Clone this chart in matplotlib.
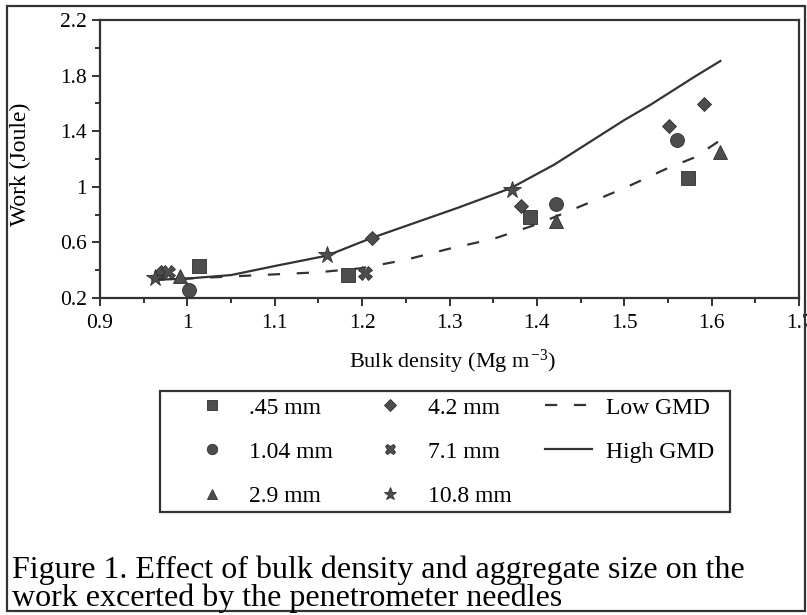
import matplotlib
matplotlib.use('Agg')
import matplotlib.pyplot as plt
from matplotlib.patches import Rectangle

plt.rcParams['font.family'] = ['Liberation Serif', 'DejaVu Serif']
plt.rcParams['mathtext.fontset'] = 'custom'
plt.rcParams['mathtext.rm'] = 'Liberation Serif'
plt.rcParams['mathtext.it'] = 'Liberation Serif:italic'

# ---- data ----
sq_x = [1.013, 1.184, 1.392, 1.573]          # .45 mm
sq_y = [0.430, 0.365, 0.780, 1.060]
ci_x = [1.002, 1.422, 1.560]                 # 1.04 mm
ci_y = [0.258, 0.876, 1.338]
tr_x = [0.991, 1.422, 1.610]                 # 2.9 mm
tr_y = [0.360, 0.756, 1.247]
di_x = [0.970, 1.211, 1.382, 1.551, 1.591]   # 4.2 mm
di_y = [0.390, 0.633, 0.862, 1.435, 1.598]
xx_x = [0.978, 1.203]                        # 7.1 mm
xx_y = [0.390, 0.380]
st_x = [0.963, 1.160, 1.371]                 # 10.8 mm
st_y = [0.342, 0.508, 0.977]

high_x = [0.96, 1.00, 1.05, 1.10, 1.16, 1.21, 1.26, 1.31, 1.37, 1.42,
          1.47, 1.50, 1.53, 1.56, 1.58, 1.61]
high_y = [0.33, 0.34, 0.365, 0.43, 0.505, 0.63, 0.74, 0.85, 0.99, 1.16,
          1.36, 1.48, 1.59, 1.71, 1.79, 1.905]
low_x = [0.96, 1.00, 1.05, 1.10, 1.15, 1.20, 1.25, 1.30, 1.35, 1.40,
         1.45, 1.50, 1.55, 1.58, 1.61]
low_y = [0.33, 0.34, 0.355, 0.37, 0.385, 0.415, 0.475, 0.555, 0.625, 0.73,
         0.86, 0.99, 1.135, 1.21, 1.335]

x_ticks = [0.9, 1.0, 1.1, 1.2, 1.3, 1.4, 1.5, 1.6, 1.7]
x_tick_labels = ['0.9', '1', '1.1', '1.2', '1.3', '1.4', '1.5', '1.6', '1.7']
y_ticks = [0.2, 0.6, 1.0, 1.4, 1.8, 2.2]
y_tick_labels = ['0.2', '0.6', '1', '1.4', '1.8', '2.2']
x_minor = [0.95, 1.05, 1.15, 1.25, 1.35, 1.45, 1.55, 1.65]
y_minor = [0.4, 0.8, 1.2, 1.6, 2.0]

series_labels = ['.45 mm', '1.04 mm', '2.9 mm', '4.2 mm', '7.1 mm', '10.8 mm']
line_labels = ['Low GMD', 'High GMD']

# ---- figure ----
W, H = 807, 615
fig = plt.figure(figsize=(W / 100, H / 100), dpi=100)
ax = fig.add_axes([100 / W, 1 - 298 / H, 699 / W, 278 / H])

mc = '#4d4d4d'
ec = '#2e2e2e'
lc = '#333333'

ln_low, = ax.plot(low_x, low_y, color=lc, lw=1.6, linestyle=(0, (5.5, 7.5)), zorder=2)
ln_high, = ax.plot(high_x, high_y, color=lc, lw=1.6, zorder=2)

kw = dict(linestyle='none', color=mc, markeredgecolor=ec, markeredgewidth=0.6, zorder=3)
h_sq, = ax.plot(sq_x, sq_y, marker='s', markersize=10, **kw)
h_ci, = ax.plot(ci_x, ci_y, marker='o', markersize=10, **kw)
h_tr, = ax.plot(tr_x, tr_y, marker='^', markersize=10, **kw)
h_di, = ax.plot(di_x, di_y, marker='D', markersize=7.5, **kw)
h_xx, = ax.plot(xx_x, xx_y, marker='X', markersize=10, **kw)
h_st, = ax.plot(st_x, st_y, marker='*', markersize=13, **kw)

ax.set_xlim(0.9, 1.7)
ax.set_ylim(0.2, 2.2)
ax.set_xticks(x_ticks)
ax.set_xticklabels(x_tick_labels)
ax.set_yticks(y_ticks)
ax.set_yticklabels(y_tick_labels)
ax.set_xticks(x_minor, minor=True)
ax.set_yticks(y_minor, minor=True)

for s in ax.spines.values():
    s.set_linewidth(1.6)
    s.set_color(lc)

ax.tick_params(which='major', direction='out', length=5.5, width=1.4, color=lc,
               labelsize=15.5, pad=4)
ax.tick_params(which='minor', direction='out', length=3.5, width=1.4, color=lc)
ax.tick_params(axis='x', which='major', pad=6)

ax.set_xlabel(r'Bulk density (Mg m$^{\,\mathrm{-3}}$)', fontsize=16)
ax.set_ylabel('Work (Joule)', fontsize=17)
ax.xaxis.set_label_coords(0.505, -0.18)
ax.yaxis.set_label_coords(-0.099, 0.48)

handles = [h_sq, h_ci, h_tr, h_di, h_xx, h_st, ln_low, ln_high]
labels = series_labels + line_labels
leg = fig.legend(handles, labels, ncol=3, loc='upper left',
                 bbox_to_anchor=(188 / W, 1 - 397 / H), borderaxespad=0,
                 fontsize=17, frameon=False, markerscale=0.75,
                 handlelength=2.0, handletextpad=0.6, columnspacing=1.4,
                 labelspacing=0.96, borderpad=0)

# legend frame
fig.patches.append(Rectangle((160 / W, 1 - 512 / H), 570 / W, 121 / H, fill=False,
                             lw=1.6, edgecolor=lc, transform=fig.transFigure))

fig.text(12 / W, 1 - 578 / H, 'Figure 1. Effect of bulk density and aggregate size on the',
         fontsize=23, va='baseline', ha='left')
fig.text(12 / W, 1 - 606 / H, 'work excerted by the penetrometer needles',
         fontsize=23, va='baseline', ha='left')

# outer figure border
fig.patches.append(Rectangle((7 / W, 1 - 611 / H), 798 / W, 605 / H, fill=False,
                             lw=1.6, edgecolor=lc, transform=fig.transFigure))

fig.savefig('out.png', dpi=100)
